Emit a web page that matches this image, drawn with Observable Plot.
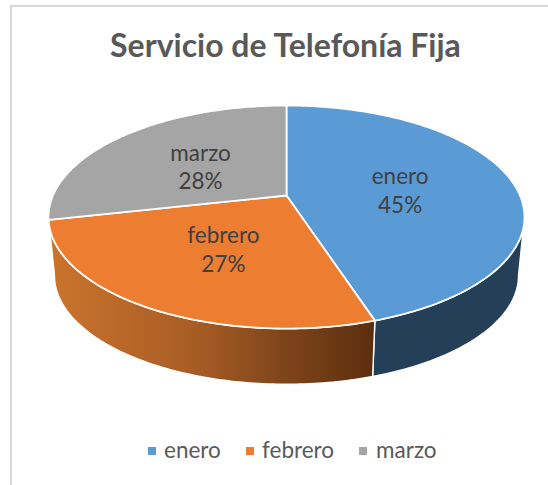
<!DOCTYPE html>
<html>
<head>
<meta charset="utf-8">
<script src="https://cdn.jsdelivr.net/npm/d3@7"></script>
<script src="https://cdn.jsdelivr.net/npm/@observablehq/plot@0.6"></script>
<style>
  html, body { margin: 0; padding: 0; background: #fff; }
  #frame { position: relative; width: 548px; height: 485px; overflow: hidden; box-sizing: border-box; }
  #border { position: absolute; left: 10px; top: 5px; width: 600px; height: 600px; border: 2px solid #d9d9d9; box-sizing: border-box; }
  #title { position: absolute; left: 0; top: 25px; width: 571px; text-align: center; font: 700 32px/40px Lato, sans-serif; color: #595959; white-space: nowrap; }
  #chart { position: absolute; left: 0; top: 80px; }
  #legend { position: absolute; left: 148px; top: 436px; height: 28px; font: 400 22.5px/28px Lato, sans-serif; color: #595959; }
  #legend span.k { position: absolute; top: 11px; width: 8px; height: 8px; }
  #legend span.t { position: absolute; top: 0; white-space: nowrap; }
</style>
</head>
<body>
<div id="frame">
  <div id="border"></div>
  <div id="title"></div>
  <div id="chart"></div>
  <div id="legend"></div>
</div>
<script>
const titleText = "Servicio de Telefonía Fija";
const months = ["enero", "febrero", "marzo"];
const shares = [45, 26.5, 28.5];
const shownPercent = [45, 27, 28];
const topColors = ["#5B9BD5", "#ED7D31", "#A5A5A5"];
const legendSwatchX = [0, 98, 211];
const legendTextX = [16, 114, 228];

// perspective view of the disc
const cx = 286, cy = 195, k = 0.193, f = 233.5, g = 107.4;
const lowerScale = 0.975, lowerCy = 254;

function project(theta, r = 1, scale = 1, yc = cy) {
  const X = r * Math.sin(theta), Z = -r * Math.cos(theta), d = 1 - k * Z;
  return [cx + scale * f * X / d, yc + scale * g * Z / d];
}
function steps(a0, a1) {
  const n = Math.max(2, Math.ceil(Math.abs(a1 - a0) * 60));
  return d3.range(n + 1).map(i => a0 + (a1 - a0) * i / n);
}

const total = d3.sum(shares);
let acc = 0;
const slices = months.map((name, i) => {
  const a0 = acc / total * 2 * Math.PI;
  acc += shares[i];
  const a1 = acc / total * 2 * Math.PI;
  return {name, share: shownPercent[i], a0, a1, color: topColors[i]};
});

// horizon angles: where the rim reaches its widest left/right extent
const rightEdge = Math.acos(-k), leftEdge = 2 * Math.PI - rightEdge;

const topPolygons = slices.map(s => {
  const rim = steps(s.a0, s.a1).map(t => project(t));
  const c = [cx, cy];
  return [c, ...rim, c];
});

function sidePolygon(a0, a1) {
  const up = steps(a0, a1).map(t => project(t));
  const low = steps(a1, a0).map(t => project(t, 1, lowerScale, lowerCy));
  return [...up, ...low, up[0]];
}
const blueSide = sidePolygon(rightEdge, slices[0].a1);
const orangeSide = sidePolygon(slices[0].a1, Math.max(slices[1].a1, leftEdge));

const labels = slices.map(s => {
  const mid = (s.a0 + s.a1) / 2, [x, y] = project(mid, 0.5);
  return {x, y: y + 2, text: `${s.name}\n${s.share}%`};
});

function defs() {
  const d = d3.create("svg:defs");
  const lg = d.append("linearGradient").attr("id", "orangeSideFill").attr("x1", 0).attr("x2", 1).attr("y1", 0).attr("y2", 0);
  [[0, "#CB742D"], [0.45, "#A85C24"], [0.72, "#7E451A"], [1, "#5C2E0F"]].forEach(([o, c]) =>
    lg.append("stop").attr("offset", o).attr("stop-color", c));
  return d.node();
}

const poly = (pts, fill, strokeWidth = 1.6) => Plot.line(pts, {
  x: d => d[0], y: d => d[1], fill, stroke: "#fff", strokeWidth,
  strokeLinejoin: "round", curve: "linear"
});

const chart = Plot.plot({
  width: 548, height: 350,
  marginTop: 0, marginRight: 0, marginBottom: 0, marginLeft: 0,
  x: {domain: [0, 548], axis: null},
  y: {domain: [350 + 80, 80], axis: null},
  style: {background: "transparent", overflow: "visible"},
  marks: [
    defs,
    poly(blueSide, "#243F57", 1.4),
    poly(orangeSide, "url(#orangeSideFill)", 1.4),
    ...topPolygons.map((p, i) => poly(p, topColors[i], 1.8)),
    Plot.text(labels, {
      x: "x", y: "y", text: "text", fontSize: 22.5, lineHeight: 1.27,
      fontFamily: "Lato, sans-serif", fill: "#404040", lineAnchor: "middle"
    })
  ]
});
document.getElementById("chart").appendChild(chart);
document.getElementById("title").textContent = titleText;

const legend = document.getElementById("legend");
months.forEach((m, i) => {
  const k = document.createElement("span");
  k.className = "k"; k.style.left = legendSwatchX[i] + "px"; k.style.background = topColors[i];
  const t = document.createElement("span");
  t.className = "t"; t.style.left = legendTextX[i] + "px"; t.textContent = m;
  legend.append(k, t);
});
</script>
</body>
</html>
